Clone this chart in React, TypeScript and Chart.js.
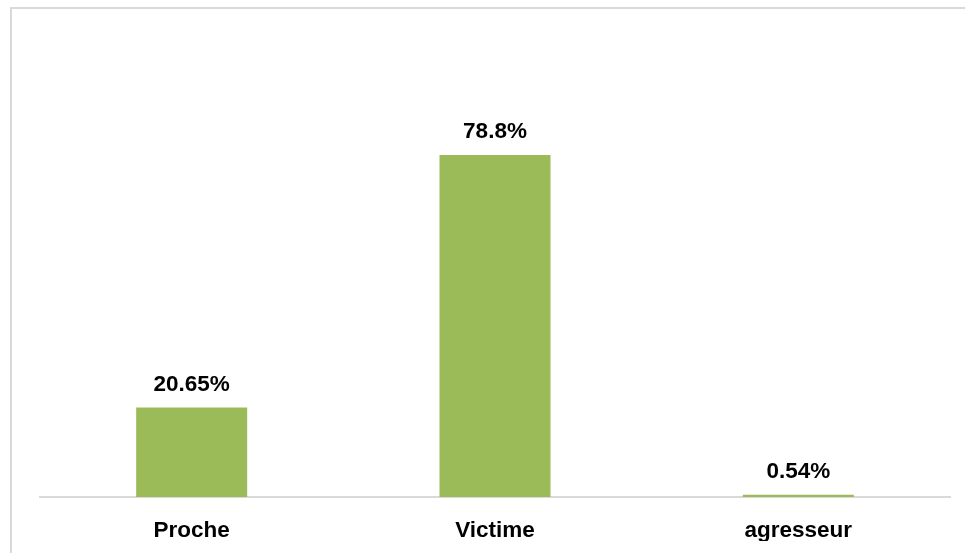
import React, { useEffect, useRef } from "react";
import { Chart, registerables } from "chart.js";

Chart.register(...registerables);

const categories: string[] = ["Proche", "Victime", "agresseur"];
const values: number[] = [20.65, 78.8, 0.54];
const valueLabels: string[] = ["20.65%", "78.8%", "0.54%"];

const FONT = "'Liberation Sans', Arial, sans-serif";

const dataLabelPlugin = {
  id: "dataLabels",
  afterDatasetsDraw(chart: any) {
    const ctx = chart.ctx;
    const meta = chart.getDatasetMeta(0);
    ctx.save();
    ctx.font = `bold 22.5px ${FONT}`;
    ctx.fillStyle = "#000000";
    ctx.textAlign = "center";
    ctx.textBaseline = "middle";
    meta.data.forEach((bar: any, i: number) => {
      ctx.fillText(valueLabels[i], bar.x, bar.y - 23);
    });
    ctx.restore();
  },
};

export default function App() {
  const canvasRef = useRef<HTMLCanvasElement | null>(null);

  useEffect(() => {
    if (!canvasRef.current) return;
    const chart = new Chart(canvasRef.current, {
      type: "bar",
      data: {
        labels: categories,
        datasets: [
          {
            data: values,
            backgroundColor: "#9BBB59",
            borderWidth: 0,
            barPercentage: 0.366,
            categoryPercentage: 1,
          },
        ],
      },
      options: {
        responsive: false,
        animation: false,
        events: [],
        layout: { padding: { left: 40, right: 15, top: 63, bottom: 12 } },
        plugins: {
          legend: { display: false },
          tooltip: { enabled: false },
          title: { display: false },
        },
        scales: {
          x: {
            grid: { display: false, drawTicks: false },
            border: { display: true, color: "#d9d9d9", width: 2 },
            ticks: {
              color: "#000000",
              padding: 20,
              font: { family: FONT, size: 22.5, weight: "bold" },
            },
            afterFit: (scale: any) => {
              scale.height = 44;
            },
          },
          y: {
            display: false,
            min: 0,
            max: 100,
          },
        },
      },
      plugins: [dataLabelPlugin],
    });
    return () => chart.destroy();
  }, []);

  return (
    <div
      style={{
        position: "fixed",
        left: 0,
        top: 0,
        width: 965,
        height: 553,
        overflow: "hidden",
        background: "#ffffff",
      }}
    >
      <div
        style={{
          position: "absolute",
          left: 10,
          top: 7,
          width: 1000,
          height: 600,
          border: "2px solid #d9d9d9",
          boxSizing: "border-box",
        }}
      />
      <canvas
        ref={canvasRef}
        width={965}
        height={553}
        style={{ position: "absolute", left: 0, top: 0, width: 965, height: 553 }}
      />
    </div>
  );
}
